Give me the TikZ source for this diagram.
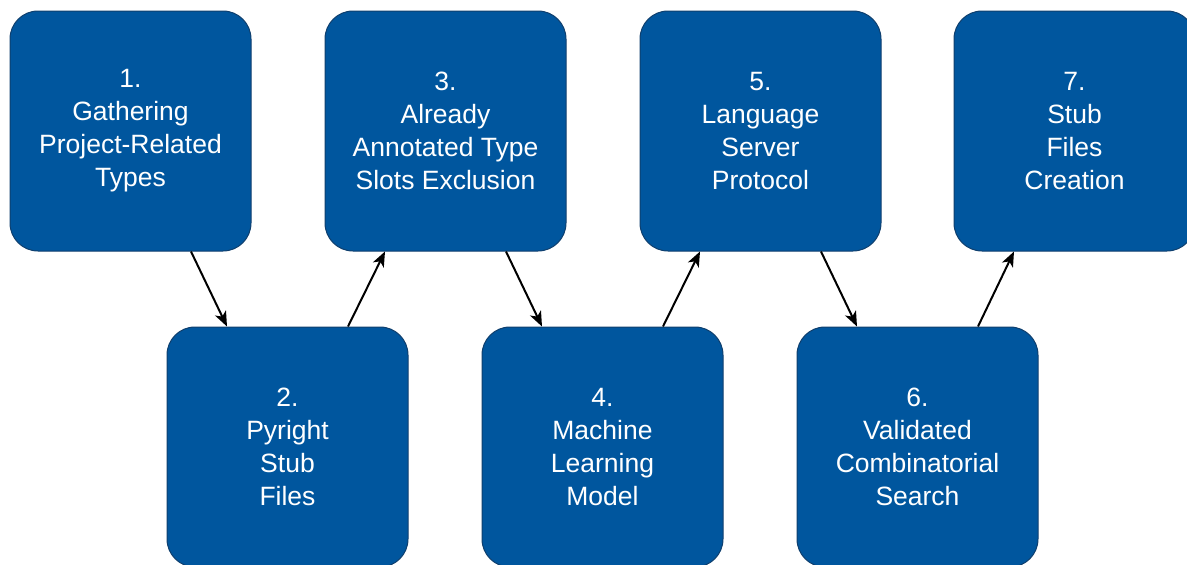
\documentclass[tikz,border=0pt]{standalone}
\usepackage{fontspec}
\setmainfont{Liberation Sans}
\usetikzlibrary{arrows.meta,calc}
\definecolor{boxfill}{HTML}{00569E}
\definecolor{boxline}{HTML}{0F3F6E}
\tikzset{
  stepbox/.style={draw=boxline, line width=1pt, fill=boxfill, rounded corners=28pt,
    minimum width=241pt, minimum height=240pt, inner sep=0pt, text=white,
    align=center, font=\fontsize{26.5pt}{33pt}\selectfont},
  flow/.style={line width=2pt, -{Stealth[length=15pt,width=12pt,inset=4pt]}},
}
\begin{document}
\begin{tikzpicture}[x=1pt,y=1pt]
\useasboundingbox (0,0) rectangle (1187,-565);
\clip (0,0) rectangle (1187,-565);
\node[stepbox] (b1) at (130.5,-131) {1.\\Gathering\\Project-Related\\Types};
\node[stepbox] (b3) at (445.5,-131) {3.\\Already\\Annotated Type\\Slots Exclusion};
\node[stepbox] (b5) at (760.5,-131) {5.\\Language\\Server\\Protocol};
\node[stepbox] (b7) at (1074.5,-131) {7.\\Stub\\Files\\Creation};
\node[stepbox] (b2) at (287.5,-447) {2.\\Pyright\\Stub\\Files};
\node[stepbox] (b4) at (602.5,-447) {4.\\Machine\\Learning\\Model};
\node[stepbox] (b6) at (917.5,-447) {6.\\Validated\\Combinatorial\\Search};
\foreach \a/\b in {b1/b2,b3/b4,b5/b6}{
  \draw[flow] ($(\a.south west)!0.75!(\a.south east)$) -- ($(\b.north west)!0.25!(\b.north east)$);
}
\foreach \a/\b in {b2/b3,b4/b5,b6/b7}{
  \draw[flow] ($(\a.north west)!0.75!(\a.north east)$) -- ($(\b.south west)!0.25!(\b.south east)$);
}
\end{tikzpicture}
\end{document}
